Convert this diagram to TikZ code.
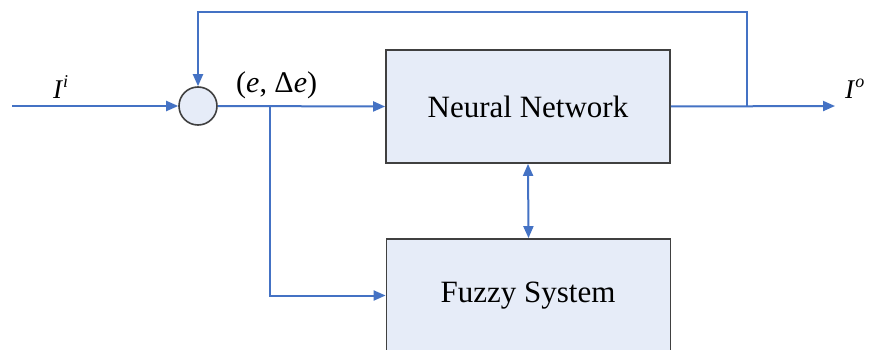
\documentclass[tikz,border=0pt]{standalone}
\usepackage{fontspec}
\setmainfont{Liberation Serif}
\usetikzlibrary{arrows.meta}
\definecolor{lineblue}{RGB}{68,114,196}
\definecolor{boxfill}{RGB}{230,236,248}
\definecolor{boxedge}{RGB}{64,64,64}
\tikzset{
  flow/.style={draw=lineblue, line width=2pt, -{Triangle[length=12pt,width=10pt]}},
  bothflow/.style={draw=lineblue, line width=2pt, {Triangle[length=12pt,width=10pt]}-{Triangle[length=12pt,width=10pt]}},
  blockbox/.style={draw=boxedge, fill=boxfill, line width=1.8pt, minimum width=284pt, minimum height=113pt, inner sep=0pt, font=\fontsize{31}{34}\selectfont},
  sumnode/.style={circle, draw=boxedge, fill=boxfill, line width=1.6pt, minimum size=38pt, inner sep=0pt},
  lbl/.style={font=\fontsize{27}{30}\selectfont, inner sep=0pt}
}
\begin{document}
\begin{tikzpicture}[x=1pt,y=-1pt]
\useasboundingbox[fill=white] (0,0) rectangle (874,350);
\begin{scope}
\clip (0,0) rectangle (874,350);
\node[sumnode] (sum) at (198,106) {};
\node[blockbox] (nn) at (528,106.5) {Neural Network};
\node[blockbox] (fz) at (528.5,295.5) {};
\node[font=\fontsize{31}{34}\selectfont, inner sep=0pt] (fztext) at (528,296) {Fuzzy System};
\coordinate (in) at (12,106);
\coordinate (out) at (835,106);
\coordinate (br) at (747,106);
\coordinate (top) at (747,12);
\coordinate (jn) at (270,106);
\draw[flow] (in) -- (sum.west);
\draw[flow] (sum.east) -- (nn.west);
\draw[flow] (nn.east) -- (out);
\draw[flow] (br) -- (top) -| (sum.north);
\draw[flow] (jn) |- (fz.west);
\draw[bothflow] (nn.south) -- (fz.north);
\end{scope}
\node[lbl, anchor=base west] (li) at (53,99) {\textit{I}\raisebox{11pt}{\fontsize{18}{20}\selectfont\textit{i}}};
\node[lbl, anchor=base west, font=\fontsize{30}{32}\selectfont] (le) at (236,93) {(\textit{e}, Δ\textit{e})};
\node[lbl, anchor=base west] (lo) at (845,99) {\textit{I}\raisebox{11pt}{\fontsize{18}{20}\selectfont\textit{o}}};
\end{tikzpicture}
\end{document}
